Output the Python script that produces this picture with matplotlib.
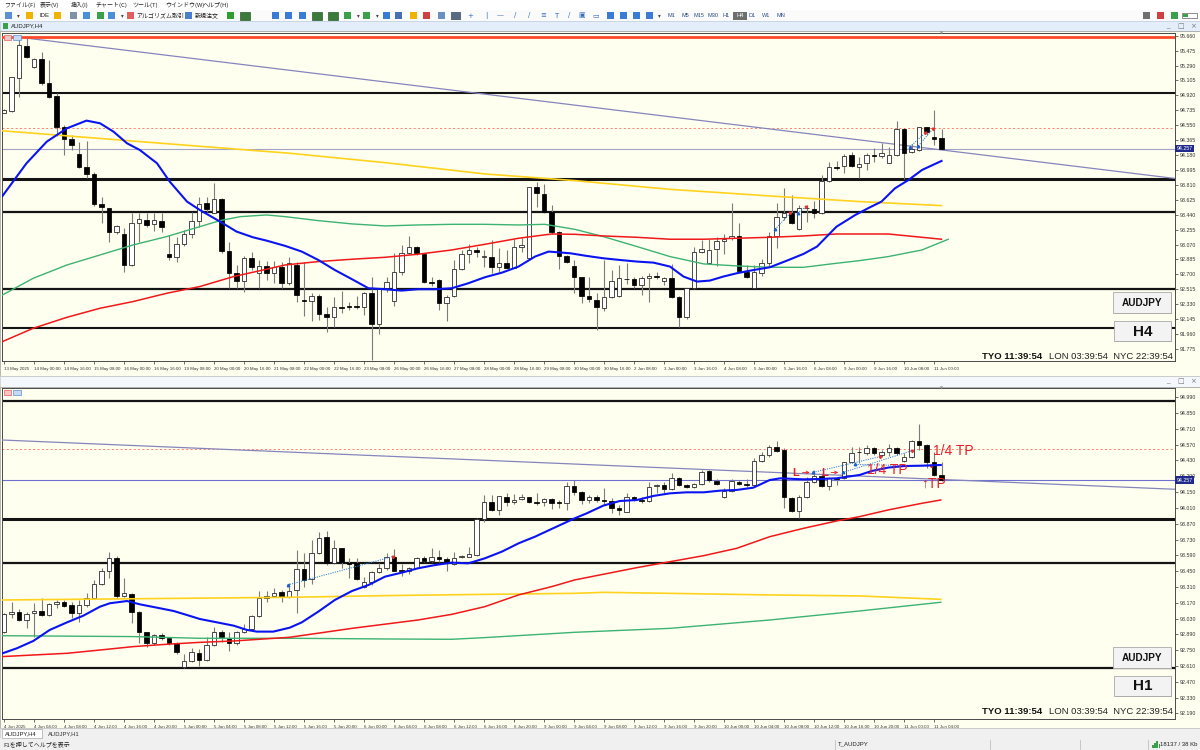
import matplotlib
matplotlib.use('Agg')
import matplotlib.pyplot as plt
import matplotlib.transforms as mtransforms
from matplotlib.patches import Rectangle
import numpy as np

plt.rcParams['font.family'] = ['Liberation Sans', 'DejaVu Sans']
JP = ['Noto Sans CJK JP', 'DejaVu Sans']

# ---------------- data: H4 ----------------
h4_open = [94.706, 94.730, 95.132, 95.537, 95.268, 95.367, 95.070, 94.912, 94.524, 94.375,
           94.190, 94.037, 93.942, 93.570, 93.520, 93.222, 93.201, 92.817, 93.343, 93.375,
           93.321, 93.367, 92.950, 92.921, 93.073, 93.197, 93.367, 93.582, 93.466, 93.632,
           92.995, 92.714, 92.623, 92.908, 92.714, 92.809, 92.714, 92.788, 92.590, 92.817,
           92.384, 92.375, 92.433, 92.206, 92.168, 92.301, 92.309, 92.309, 92.301, 92.466,
           92.086, 92.528, 92.375, 92.726, 92.962, 93.036, 92.954, 92.602, 92.631, 92.350,
           92.433, 92.764, 92.950, 93.003, 92.921, 92.921, 92.797, 92.846, 92.784, 93.045,
           92.900, 93.780, 93.698, 93.478, 93.222, 92.929, 92.805, 92.664, 92.433, 92.384,
           92.288, 92.425, 92.433, 92.648, 92.640, 92.569, 92.652, 92.685, 92.623, 92.652,
           92.425, 92.168, 92.528, 92.983, 92.838, 93.012, 93.115, 93.148, 93.177, 92.735,
           92.536, 92.722, 92.846, 93.177, 93.416, 93.466, 93.259, 93.520, 93.512, 93.458,
           93.863, 94.037, 94.045, 94.181, 94.037, 94.078, 94.181, 94.169, 94.086, 94.181,
           94.499, 94.218, 94.243, 94.524, 94.400, 94.388]
h4_high = [94.747, 95.153, 95.615, 95.628, 95.380, 95.462, 95.359, 94.945, 94.553, 94.429,
           94.346, 94.355, 93.975, 93.665, 93.520, 93.313, 93.272, 93.458, 93.466, 93.466,
           93.466, 93.466, 93.189, 93.169, 93.251, 93.478, 93.665, 93.665, 93.830, 93.644,
           93.106, 92.817, 92.929, 92.983, 92.879, 92.867, 92.867, 92.859, 92.921, 92.859,
           92.859, 92.466, 92.454, 92.301, 92.425, 92.495, 92.363, 92.433, 92.487, 92.673,
           92.516, 92.664, 92.962, 93.065, 93.177, 93.053, 92.962, 92.664, 92.640, 92.446,
           92.879, 93.003, 93.078, 93.045, 93.003, 93.127, 93.024, 93.003, 93.136, 93.148,
           93.789, 93.850, 93.822, 93.561, 93.243, 92.941, 92.879, 92.673, 92.673, 92.466,
           92.879, 92.755, 92.817, 92.838, 92.673, 92.681, 92.714, 92.735, 92.673, 92.830,
           92.437, 92.536, 93.045, 93.127, 93.136, 93.169, 93.202, 93.582, 93.342, 92.817,
           92.817, 92.888, 93.231, 93.590, 93.768, 93.685, 93.561, 93.561, 93.611, 93.933,
           94.098, 94.111, 94.194, 94.222, 94.160, 94.210, 94.264, 94.326, 94.276, 94.607,
           94.512, 94.318, 94.532, 94.532, 94.739, 94.499]
h4_low = [94.697, 94.718, 94.904, 95.380, 95.256, 95.049, 94.883, 94.417, 94.181, 94.243,
          94.016, 93.892, 93.549, 93.343, 93.106, 93.201, 92.735, 92.809, 93.106, 93.292,
          93.243, 93.222, 92.879, 92.859, 93.053, 93.148, 93.292, 93.478, 93.458, 92.970,
          92.528, 92.528, 92.487, 92.755, 92.536, 92.632, 92.590, 92.528, 92.569, 92.363,
          92.189, 92.127, 92.139, 91.986, 92.044, 92.218, 92.259, 92.268, 92.197, 91.639,
          91.962, 92.487, 92.309, 92.693, 92.954, 92.941, 92.590, 92.557, 92.259, 92.127,
          92.425, 92.755, 92.838, 92.921, 92.788, 92.722, 92.735, 92.776, 92.776, 92.983,
          92.879, 93.541, 93.466, 93.201, 92.764, 92.838, 92.466, 92.350, 92.363, 92.011,
          92.247, 92.412, 92.425, 92.578, 92.528, 92.446, 92.363, 92.640, 92.569, 92.412,
          92.044, 92.144, 92.516, 92.970, 92.838, 92.805, 92.950, 93.127, 92.735, 92.652,
          92.528, 92.681, 92.788, 93.024, 93.375, 93.321, 93.251, 93.355, 93.396, 93.450,
          93.850, 93.995, 93.962, 94.028, 93.892, 93.995, 94.099, 94.140, 94.078, 94.169,
          93.879, 94.202, 94.235, 94.429, 94.305, 94.251]
h4_close = [94.739, 95.144, 95.545, 95.400, 95.367, 95.070, 94.904, 94.524, 94.375, 94.305,
            94.037, 93.942, 93.570, 93.533, 93.222, 93.301, 92.817, 93.343, 93.384, 93.313,
            93.375, 93.284, 92.921, 93.073, 93.197, 93.367, 93.574, 93.512, 93.636, 92.991,
            92.722, 92.623, 92.908, 92.797, 92.809, 92.714, 92.797, 92.590, 92.838, 92.446,
            92.371, 92.433, 92.206, 92.168, 92.292, 92.288, 92.301, 92.301, 92.466, 92.086,
            92.516, 92.602, 92.726, 92.962, 93.036, 92.962, 92.602, 92.598, 92.350, 92.425,
            92.764, 92.950, 93.003, 92.983, 92.929, 92.797, 92.846, 92.784, 93.045, 93.065,
            93.780, 93.706, 93.478, 93.222, 92.933, 92.850, 92.673, 92.433, 92.392, 92.292,
            92.425, 92.623, 92.652, 92.640, 92.569, 92.652, 92.685, 92.664, 92.652, 92.425,
            92.168, 92.528, 92.983, 93.012, 93.003, 93.115, 93.140, 93.177, 92.747, 92.673,
            92.726, 92.838, 93.177, 93.416, 93.466, 93.334, 93.520, 93.528, 93.466, 93.863,
            94.037, 94.016, 94.169, 94.045, 94.070, 94.177, 94.169, 94.202, 94.181, 94.499,
            94.210, 94.251, 94.524, 94.470, 94.379, 94.256]

h4_blue_x = [-0.2, 1.2, 3.0, 5.7, 8.4, 11.0, 12.8, 14.6, 16.4, 18.1, 20.4, 22.1, 24.4, 26.1, 28.8,
             31.0, 33.2, 35.0, 37.5, 39.7, 41.9, 44.1, 46.4, 48.6, 50.8, 53.0, 55.2, 57.5, 59.7, 61.9,
             64.1, 66.4, 68.6, 70.8, 72.6, 74.4, 75.5, 77.7, 79.9, 82.1, 84.4, 86.6, 88.8, 90.6, 92.4,
             94.1, 95.9, 97.7, 99.5, 102.1, 104.4, 106.6, 108.4, 109.7, 111.0, 112.8, 113.5, 115.2,
             117.0, 118.8, 120.6, 122.4, 125.0]
h4_blue_y = [93.673, 93.850, 94.078, 94.346, 94.512, 94.607, 94.574, 94.470, 94.326, 94.243,
             94.078, 93.850, 93.603, 93.499, 93.355, 93.231, 93.160, 93.119, 93.053, 92.983,
             92.879, 92.755, 92.640, 92.528, 92.516, 92.499, 92.516, 92.516, 92.528, 92.590,
             92.664, 92.722, 92.797, 92.921, 92.983, 92.970, 92.962, 92.929, 92.900, 92.879,
             92.859, 92.846, 92.797, 92.673, 92.611, 92.623, 92.673, 92.714, 92.747, 92.788,
             92.871, 92.954, 93.045, 93.169, 93.292, 93.396, 93.437, 93.520, 93.603, 93.768,
             93.871, 93.995, 94.107]
h4_yellow_x = [-0.5, 18.8, 38.1, 50.8, 64.1, 76.1, 88.8, 102.1, 114.1, 125.0]
h4_yellow_y = [94.483, 94.342, 94.202, 94.086, 93.946, 93.863, 93.755, 93.673, 93.603, 93.553]
h4_green_x = [-0.2, 3.9, 8.4, 12.8, 17.2, 21.7, 26.1, 28.8, 31.5, 35.0, 37.5, 41.9, 46.4, 50.8,
              55.2, 59.7, 64.1, 68.6, 72.1, 76.1, 79.9, 84.4, 88.8, 93.3, 97.7, 102.1, 106.6,
              111.0, 114.1, 117.9, 122.4, 125.9]
h4_green_y = [92.445, 92.652, 92.817, 92.941, 93.065, 93.169, 93.292, 93.367, 93.416, 93.437,
              93.416, 93.367, 93.326, 93.301, 93.313, 93.321, 93.321, 93.313, 93.321, 93.259,
              93.169, 93.045, 92.921, 92.830, 92.805, 92.788, 92.788, 92.838, 92.871, 92.921,
              93.003, 93.136]
h4_red_x = [-0.2, 3.9, 8.4, 12.8, 17.2, 21.7, 26.1, 30.6, 35.0, 37.5, 41.9, 46.4, 50.8, 55.2,
            59.7, 64.1, 68.6, 73.0, 76.1, 79.9, 84.4, 88.8, 93.3, 97.7, 102.1, 106.6, 111.0,
            114.1, 117.9, 122.4, 125.0]
h4_red_y = [91.867, 92.032, 92.168, 92.280, 92.363, 92.466, 92.549, 92.673, 92.764, 92.817,
            92.859, 92.888, 92.912, 92.950, 93.003, 93.073, 93.148, 93.201, 93.197, 93.177,
            93.160, 93.136, 93.136, 93.148, 93.160, 93.177, 93.201, 93.201, 93.201, 93.160, 93.136]

h4_levels = [94.954, 93.879, 93.478, 92.524, 92.040]
h4_level_w = [1.5, 2.2, 1.6, 1.6, 1.5]
h4_resistance = 95.640
h4_tp_level = 94.512
h4_trend = [(2.1, 95.640), (156.1, 93.890)]
h4_trades = [[(102.8, 93.259), (104.8, 93.458)], [(105.8, 93.458), (106.9, 93.541)],
             [(120.8, 94.284), (122.8, 94.450)], [(121.9, 94.293), (123.8, 94.500)]]
h4_price_ticks = [95.660, 95.475, 95.290, 95.105, 94.920, 94.735, 94.550, 94.365, 94.180, 93.995,
                  93.810, 93.625, 93.440, 93.255, 93.070, 92.885, 92.700, 92.515, 92.330, 92.145,
                  91.960, 91.775]
h4_time_labels = ["13 May 2025", "14 May 00:00", "14 May 16:00", "15 May 08:00", "16 May 00:00",
                  "16 May 16:00", "19 May 08:00", "20 May 00:00", "20 May 16:00", "21 May 08:00",
                  "22 May 00:00", "22 May 16:00", "23 May 08:00", "26 May 00:00", "26 May 16:00",
                  "27 May 08:00", "28 May 00:00", "28 May 16:00", "29 May 08:00", "30 May 00:00",
                  "30 May 16:00", "2 Jun 08:00", "3 Jun 00:00", "3 Jun 16:00", "4 Jun 08:00",
                  "5 Jun 00:00", "5 Jun 16:00", "6 Jun 08:00", "9 Jun 00:00", "9 Jun 16:00",
                  "10 Jun 08:00", "11 Jun 00:00"]

# ---------------- data: H1 ----------------
h1_open = [92.909, 93.067, 93.091, 93.017, 93.076, 93.097, 93.061, 93.156, 93.180, 93.150,
           93.082, 93.150, 93.209, 93.333, 93.451, 93.569, 93.233, 93.244, 93.091, 92.909,
           92.816, 92.884, 92.855, 92.810, 92.604, 92.654, 92.728, 92.663, 92.796, 92.914,
           92.861, 92.810, 92.908, 92.937, 93.053, 93.209, 93.233, 93.262, 93.224, 93.283,
           93.466, 93.380, 93.608, 93.755, 93.519, 93.652, 93.519, 93.519, 93.312, 93.357,
           93.445, 93.481, 93.578, 93.460, 93.454, 93.481, 93.569, 93.540, 93.578, 93.555,
           93.510, 93.575, 93.578, 93.593, 93.909, 94.059, 93.992, 94.110, 94.059, 94.089,
           94.110, 94.059, 94.065, 94.089, 94.059, 94.051, 94.207, 94.148, 94.080, 94.104,
           94.080, 94.071, 94.006, 93.977, 94.104, 94.080, 94.074, 94.207, 94.213, 94.178,
           94.278, 94.213, 94.198, 94.222, 94.337, 94.249, 94.104, 94.160, 94.243, 94.225,
           94.213, 94.429, 94.479, 94.547, 94.523, 94.101, 93.983, 94.110, 94.243, 94.296,
           94.204, 94.272, 94.272, 94.414, 94.508, 94.494, 94.544, 94.479, 94.508, 94.538,
           94.426, 94.464, 94.603, 94.567, 94.414, 94.302]
h1_high = [93.076, 93.180, 93.115, 93.085, 93.165, 93.209, 93.165, 93.194, 93.194, 93.180,
           93.194, 93.253, 93.371, 93.481, 93.623, 93.587, 93.392, 93.253, 93.097, 92.914,
           92.890, 92.899, 92.870, 92.825, 92.713, 92.766, 92.760, 92.870, 92.958, 92.929,
           92.908, 92.920, 92.979, 93.061, 93.274, 93.274, 93.298, 93.283, 93.342, 93.637,
           93.608, 93.726, 93.800, 93.806, 93.726, 93.658, 93.563, 93.569, 93.401, 93.451,
           93.519, 93.614, 93.643, 93.510, 93.490, 93.578, 93.587, 93.652, 93.637, 93.578,
           93.623, 93.593, 93.667, 93.924, 94.124, 94.124, 94.116, 94.139, 94.130, 94.130,
           94.110, 94.139, 94.095, 94.095, 94.080, 94.243, 94.257, 94.160, 94.124, 94.124,
           94.189, 94.095, 94.036, 94.139, 94.119, 94.110, 94.243, 94.222, 94.243, 94.316,
           94.287, 94.219, 94.234, 94.346, 94.346, 94.263, 94.184, 94.263, 94.257, 94.266,
           94.455, 94.508, 94.567, 94.603, 94.538, 94.110, 94.124, 94.287, 94.346, 94.308,
           94.287, 94.287, 94.420, 94.547, 94.553, 94.567, 94.550, 94.523, 94.573, 94.553,
           94.494, 94.612, 94.751, 94.573, 94.508, 94.420]
h1_low = [92.899, 93.032, 93.008, 92.943, 92.870, 93.053, 93.053, 93.126, 93.135, 93.032,
          92.996, 93.135, 93.203, 93.327, 93.386, 93.203, 93.221, 92.988, 92.816, 92.781,
          92.796, 92.840, 92.796, 92.713, 92.595, 92.648, 92.613, 92.654, 92.787, 92.825,
          92.743, 92.796, 92.899, 92.929, 93.047, 93.180, 93.224, 93.180, 93.209, 93.082,
          93.312, 93.333, 93.599, 93.504, 93.510, 93.475, 93.386, 93.374, 93.298, 93.327,
          93.431, 93.460, 93.451, 93.410, 93.422, 93.475, 93.528, 93.528, 93.534, 93.451,
          93.504, 93.563, 93.572, 93.584, 93.888, 93.983, 93.947, 94.030, 94.045, 94.080,
          94.051, 94.036, 94.030, 93.998, 94.012, 93.992, 94.124, 94.042, 94.051, 94.065,
          94.036, 93.962, 93.947, 93.971, 94.071, 94.051, 94.065, 94.139, 94.139, 94.169,
          94.207, 94.184, 94.184, 94.213, 94.243, 94.213, 94.101, 94.154, 94.213, 94.198,
          94.207, 94.420, 94.464, 94.508, 94.012, 93.971, 93.918, 94.101, 94.228, 94.198,
          94.169, 94.213, 94.266, 94.405, 94.405, 94.479, 94.479, 94.464, 94.473, 94.479,
          94.414, 94.455, 94.523, 94.361, 94.296, 94.251]
h1_close = [93.067, 93.091, 93.017, 93.067, 93.100, 93.061, 93.156, 93.180, 93.144, 93.082,
            93.150, 93.209, 93.333, 93.451, 93.563, 93.233, 93.253, 93.085, 92.909, 92.816,
            92.884, 92.855, 92.810, 92.737, 92.654, 92.731, 92.663, 92.796, 92.914, 92.870,
            92.810, 92.908, 92.937, 93.053, 93.209, 93.233, 93.259, 93.224, 93.274, 93.466,
            93.371, 93.608, 93.747, 93.519, 93.652, 93.534, 93.510, 93.380, 93.357, 93.439,
            93.481, 93.572, 93.454, 93.454, 93.475, 93.563, 93.540, 93.578, 93.558, 93.525,
            93.569, 93.584, 93.599, 93.909, 94.065, 93.992, 94.116, 94.065, 94.080, 94.110,
            94.059, 94.051, 94.089, 94.051, 94.051, 94.207, 94.148, 94.080, 94.104, 94.080,
            94.074, 94.006, 93.992, 94.104, 94.080, 94.074, 94.198, 94.213, 94.178, 94.278,
            94.213, 94.198, 94.222, 94.331, 94.257, 94.222, 94.160, 94.251, 94.222, 94.213,
            94.429, 94.479, 94.547, 94.517, 94.104, 93.983, 94.110, 94.243, 94.293, 94.204,
            94.272, 94.266, 94.414, 94.500, 94.502, 94.544, 94.494, 94.508, 94.538, 94.494,
            94.464, 94.606, 94.567, 94.414, 94.302, 94.257]

h1_blue_x = [-0.2, 1.7, 3.9, 6.1, 8.4, 10.6, 12.8, 14.1, 16.4, 18.1, 20.4, 22.6, 24.4, 26.1, 28.4,
             30.6, 32.4, 33.7, 35.9, 38.1, 39.7, 41.9, 44.1, 46.4, 48.6, 50.8, 53.0, 55.2, 57.5,
             59.7, 61.9, 64.1, 66.4, 68.6, 70.8, 73.0, 76.1, 77.7, 79.9, 82.1, 84.4, 86.6, 88.8,
             91.0, 93.3, 95.5, 97.7, 99.9, 102.1, 103.5, 106.6, 108.8, 111.0, 114.1, 115.7, 117.9,
             120.1, 122.4, 124.9]
h1_blue_y = [92.722, 92.766, 92.831, 92.929, 92.996, 93.056, 93.135, 93.165, 93.185, 93.156,
             93.126, 93.097, 93.061, 93.026, 92.996, 92.967, 92.929, 92.914, 92.914, 92.949,
             92.996, 93.091, 93.194, 93.274, 93.327, 93.401, 93.436, 93.475, 93.504, 93.525,
             93.519, 93.563, 93.623, 93.696, 93.755, 93.823, 93.918, 93.962, 94.030, 94.071,
             94.080, 94.116, 94.139, 94.148, 94.148, 94.163, 94.169, 94.189, 94.257, 94.272,
             94.263, 94.266, 94.272, 94.302, 94.337, 94.367, 94.381, 94.384, 94.390]
h1_yellow_x = [-0.5, 38.1, 50.8, 64.1, 76.1, 79.9, 88.8, 102.1, 114.1, 124.9]
h1_yellow_y = [93.194, 93.218, 93.233, 93.244, 93.253, 93.262, 93.253, 93.239, 93.230, 93.200]
h1_green_x = [-0.5, 17.2, 26.1, 38.1, 50.8, 59.7, 64.1, 76.1, 88.8, 102.1, 114.1, 124.9]
h1_green_y = [92.878, 92.870, 92.855, 92.855, 92.849, 92.846, 92.861, 92.908, 92.943, 93.017,
              93.097, 93.174]
h1_red_x = [-0.5, 8.4, 12.8, 17.2, 21.7, 26.1, 30.6, 38.1, 46.4, 55.2, 59.7, 64.1, 68.6, 73.0,
            76.1, 84.4, 93.3, 97.7, 102.1, 106.6, 111.0, 114.1, 117.9, 122.4, 124.9]
h1_red_y = [92.692, 92.722, 92.751, 92.781, 92.802, 92.819, 92.831, 92.864, 92.943, 93.017,
            93.067, 93.135, 93.239, 93.312, 93.372, 93.481, 93.587, 93.652, 93.755, 93.829,
            93.894, 93.933, 93.992, 94.051, 94.080]

h1_levels = [94.960, 93.912, 93.525, 92.589]
h1_level_w = [1.6, 2.2, 1.6, 1.6]
h1_tp_level = 94.529
h1_trend = [(-0.5, 94.612), (156.1, 94.175)]
h1_trades = [[(37.8, 93.327), (51.8, 93.578)], [(107.9, 94.325), (116.8, 94.464)],
             [(111.9, 94.325), (121.0, 94.515)], [(113.5, 94.395), (123.6, 94.380)]]
h1_price_ticks = [94.990, 94.850, 94.710, 94.570, 94.430, 94.290, 94.150, 94.010, 93.870, 93.730,
                  93.590, 93.450, 93.310, 93.170, 93.030, 92.890, 92.750, 92.610, 92.470, 92.330,
                  92.190]
h1_time_labels = ["4 Jun 2025", "4 Jun 04:00", "4 Jun 08:00", "4 Jun 12:00", "4 Jun 16:00",
                  "4 Jun 20:00", "5 Jun 00:00", "5 Jun 04:00", "5 Jun 08:00", "5 Jun 12:00",
                  "5 Jun 16:00", "5 Jun 20:00", "6 Jun 00:00", "6 Jun 04:00", "6 Jun 08:00",
                  "6 Jun 12:00", "6 Jun 16:00", "6 Jun 20:00", "9 Jun 00:00", "9 Jun 04:00",
                  "9 Jun 08:00", "9 Jun 12:00", "9 Jun 16:00", "9 Jun 20:00", "10 Jun 00:00",
                  "10 Jun 04:00", "10 Jun 08:00", "10 Jun 12:00", "10 Jun 16:00", "10 Jun 20:00",
                  "11 Jun 00:00", "11 Jun 04:00"]
h1_notes = [("1/4 TP", 123.9, 94.514), ("1/4 TP", 115.1, 94.346), ("\u2191TP", 122.3, 94.222)]
h1_entries = [(105.1, 94.320), (108.9, 94.320)]

current_price = 94.257

# ---------------- figure ----------------
W, H = 1200, 750
fig = plt.figure(figsize=(12, 7.5), dpi=100)
fig.patch.set_facecolor('white')


def px_axes(x0, y0, x1, y1, z=0):
    return fig.add_axes([x0 / W, 1 - y1 / H, (x1 - x0) / W, (y1 - y0) / H], zorder=z)


bg = px_axes(0, 0, W, H, z=0)
bg.set_xlim(0, W); bg.set_ylim(H, 0); bg.axis('off')


def rect(a, x0, y0, x1, y1, fc, ec='none', lw=0.5, z=1):
    a.add_patch(Rectangle((x0, y0), x1 - x0, y1 - y0, facecolor=fc, edgecolor=ec, lw=lw, zorder=z))


IVORY = '#fffff0'
rect(bg, 0, 0, W, 10, 'white')
rect(bg, 0, 10, W, 21, '#fbfbfb')
rect(bg, 0, 21, W, 31, '#e3eefa', ec='#b8c9dc')
rect(bg, 0, 31, W, 376, IVORY, ec='#9a9a9a')
rect(bg, 0, 376, W, 387, '#f4f7fb', ec='#c8c8c8')
rect(bg, 0, 387, W, 728, IVORY, ec='#9a9a9a')
rect(bg, 0, 728, W, 738, '#f0f0f0', ec='#c8c8c8')
rect(bg, 0, 738, W, H, '#f0f0f0')

# menu bar
for x, t in [(4, 'ファイル(F)'), (40, '表示(V)'), (71, '挿入(I)'), (96, 'チャート(C)'),
             (132, 'ツール(T)'), (165, 'ウインドウ(W)'), (203, 'ヘルプ(H)')]:
    bg.text(x, 5, t, family=JP, fontsize=4.3, va='center', ha='left', color='#222')

# toolbar icons
icons = [(8, '#5b8fd6'), (29, '#f0b400'), (57, '#f0b400'), (73, '#8090a8'), (86, '#4a90d9'),
         (100, '#3aa04a'), (111, '#4a90d9'), (130, '#e06060'), (188, '#4a7fd0'), (230, '#2ca02c'),
         (275, '#3a7bd5'), (288, '#3a7bd5'), (302, '#3a7bd5'), (347, '#3aa04a'), (366, '#3aa04a'),
         (386, '#3a7bd5'), (398, '#4a6fb0'), (413, '#f0b400'), (426, '#d04040'), (441, '#6a8fc0'),
         (610, '#3a7bd5'), (623, '#3a7bd5'), (636, '#3a7bd5'), (649, '#3a7bd5'),
         (1146, '#707070'), (1160, '#d04040'), (1174, '#3aa04a')]
for x, c in icons:
    rect(bg, x - 3.5, 12, x + 3.5, 19, c, z=2)
for x in [245, 317, 333]:
    rect(bg, x - 5, 11.5, x + 5, 19.5, '#3c7a3c', ec='#2a5a2a', z=2)
rect(bg, 451, 11.5, 461, 19.5, '#5a6a80', z=2)
for x, g in [(470, '+'), (486, '|'), (500, '—'), (515, '/'), (529, '/'), (543, '≡'), (556, 'T'),
             (569, '/'), (582, '▣'), (596, '▭')]:
    bg.text(x, 15.5, g, fontsize=5, color='#3a6fc0', ha='center', va='center', family=['DejaVu Sans'])
for x in [18, 122, 358, 377, 659]:
    bg.text(x, 15.5, '▾', fontsize=4, color='#444', ha='center', va='center', family=['DejaVu Sans'])
bg.text(40, 15.5, 'IDE', fontsize=4.3, va='center', ha='left', color='#222')
bg.text(136, 15.5, 'アルゴリズム取引', family=JP, fontsize=4.3, va='center', ha='left', color='#222')
bg.text(195, 15.5, '新規注文', family=JP, fontsize=4.3, va='center', ha='left', color='#222')
rect(bg, 733, 11.5, 747, 19.5, '#6e6e6e', z=2)
for x, t in [(671, 'M1'), (685, 'M5'), (699, 'M15'), (713, 'M30'), (726, 'H1'), (740, 'H4'),
             (752, 'D1'), (766, 'W1'), (781, 'MN')]:
    bg.text(x, 15.5, t, fontsize=4.0, va='center', ha='center',
            color='white' if t == 'H4' else '#2a4a80', zorder=3)
rect(bg, 1182, 13, 1197, 18, 'white', ec='#606060', z=2)
rect(bg, 1183, 14, 1188, 17, '#3aa04a', z=3)

# window title bars
rect(bg, 3, 23, 8, 29, '#3aa04a', z=2)
bg.text(11, 26, 'AUDJPY,H4', fontsize=4.3, va='center', ha='left', color='#222')
for y in (26, 381):
    for x, g in [(1168, '_'), (1181, '□'), (1193, '×')]:
        bg.text(x, y, g, fontsize=5, ha='center', va='center', color='#777',
                family=['DejaVu Sans'])

# tabs & status bar
rect(bg, 2, 729, 42, 738, 'white', ec='#a8a8a8', z=2)
bg.text(5, 733.5, 'AUDJPY,H4', fontsize=4.2, va='center', ha='left', color='#222', zorder=3)
bg.text(48, 733.5, 'AUDJPY,H1', fontsize=4.2, va='center', ha='left', color='#333')
bg.text(3, 744, 'F1を押してヘルプを表示', family=JP, fontsize=4.3, va='center', ha='left', color='#222')
bg.text(838, 744, 'T_AUDJPY', fontsize=4.3, va='center', ha='left', color='#222')
bg.text(1197, 744, '18137 / 38 Kb', fontsize=4.3, va='center', ha='right', color='#222')
for x in [835, 990, 1080, 1148]:
    bg.plot([x, x], [740, 749], color='#c0c0c0', lw=0.6)
for i, hgt in enumerate([3, 5, 7, 4]):
    rect(bg, 1152 + i * 2.2, 748 - hgt, 1153.5 + i * 2.2, 748, '#3aa04a', z=2)

# ---------------- charts ----------------
PLOT_X0, PLOT_X1 = 2, 1175


def make_chart(y0, y1, ylim):
    ax = px_axes(PLOT_X0, y0, PLOT_X1, y1, z=2)
    ax.set_facecolor(IVORY)
    ax.set_xlim(-0.2667, 156.13)
    ax.set_ylim(*ylim)
    for s in ax.spines.values():
        s.set_color('#4a4a4a'); s.set_linewidth(0.7)
    return ax


def axis_labels(ax, yt, xl):
    ax.yaxis.tick_right()
    ax.set_yticks(yt)
    ax.set_yticklabels([f'{v:.3f}' for v in yt])
    ax.tick_params(axis='y', length=2.5, width=0.5, pad=1.2, labelsize=3.8,
                   colors='#333333', direction='out')
    ax.set_xticks(np.arange(0, 4 * len(xl), 4))
    ax.set_xticklabels(xl, ha='left')
    ax.tick_params(axis='x', length=2.5, width=0.5, pad=1.8, labelsize=3.2,
                   colors='#333333', direction='out')


def candles(ax, o, h, l, c):
    o, h, l, c = map(np.asarray, (o, h, l, c))
    idx = np.arange(len(o))
    hi = np.maximum(h, np.maximum(o, c)); lo = np.minimum(l, np.minimum(o, c))
    ax.vlines(idx, lo, hi, color='#7c7c7c', lw=0.8, zorder=4)
    up = c >= o
    bottom = np.minimum(o, c)
    height = np.maximum(np.abs(c - o), 0.005)
    ax.bar(idx[up], height[up], bottom=bottom[up], width=0.62, color='white',
           edgecolor='#1a1a1a', lw=0.55, zorder=5)
    ax.bar(idx[~up], height[~up], bottom=bottom[~up], width=0.62, color='black',
           edgecolor='black', lw=0.55, zorder=5)


def common(ax, levels, widths, trend, tp, cur_col, trades):
    for v, w in zip(levels, widths):
        ax.axhline(v, color='#141414', lw=w, zorder=2)
    ax.axhline(tp, color='#ff7a6a', lw=0.7, ls=(0, (2, 2.5)), zorder=2)
    ax.axhline(current_price, color=cur_col, lw=0.8, zorder=2)
    (x1, y1), (x2, y2) = trend
    ax.plot([x1, x2], [y1, y2], color='#8585bd', lw=0.9, zorder=3)
    for seg in trades:
        xs, ys = zip(*seg)
        ax.plot(xs, ys, color='#2f7fd6', lw=0.7, ls=(0, (1.2, 1.2)), zorder=6)
        ax.plot(xs[0], ys[0], marker='^', ms=1.8, color='#1f5fd0', zorder=7)
        ax.plot(xs[1], ys[1], marker='v', ms=1.8, color='#e03030', zorder=7)
    tr = mtransforms.blended_transform_factory(ax.transAxes, ax.transData)
    ax.text(1.0012, current_price, f'{current_price:.3f}', transform=tr, fontsize=3.8,
            color='white', va='center', ha='left', clip_on=False, zorder=20,
            bbox=dict(boxstyle='square,pad=0.22', fc='#1f2a8a', ec='none'))


def mas(ax, blue, yellow, green, red):
    ax.plot(*yellow, color='#ffd21e', lw=1.2, zorder=6)
    ax.plot(*green, color='#3cb371', lw=1.0, zorder=6)
    ax.plot(*red, color='#f01818', lw=1.1, zorder=6)
    ax.plot(*blue, color='#0a14f0', lw=1.5, zorder=7)


# H4
ax4 = make_chart(33, 361, (91.626, 95.6935))
axis_labels(ax4, h4_price_ticks, h4_time_labels)
common(ax4, h4_levels, h4_level_w, h4_trend, h4_tp_level, '#a3a3c6', h4_trades)
ax4.axhline(h4_resistance, color='#ff4a2a', lw=2.0, zorder=3)
candles(ax4, h4_open, h4_high, h4_low, h4_close)
mas(ax4, (h4_blue_x, h4_blue_y), (h4_yellow_x, h4_yellow_y), (h4_green_x, h4_green_y),
    (h4_red_x, h4_red_y))

# H1
ax1 = make_chart(388, 719, (92.140, 95.072))
axis_labels(ax1, h1_price_ticks, h1_time_labels)
common(ax1, h1_levels, h1_level_w, h1_trend, h1_tp_level, '#6f6fd2', h1_trades)
candles(ax1, h1_open, h1_high, h1_low, h1_close)
mas(ax1, (h1_blue_x, h1_blue_y), (h1_yellow_x, h1_yellow_y), (h1_green_x, h1_green_y),
    (h1_red_x, h1_red_y))
for txt, xi, yi in h1_notes:
    ax1.text(xi, yi, txt, fontsize=10, color='#e8202a', ha='left', va='center', zorder=12,
             family=['Liberation Sans', 'DejaVu Sans'])
for xi, yi in h1_entries:
    ax1.text(xi, yi, 'L', fontsize=8, color='#e8202a', ha='left', va='center', zorder=12,
             fontweight='bold')
    ax1.annotate('', xy=(xi + 2.7, yi + 0.004), xytext=(xi + 1.0, yi + 0.004),
                 arrowprops=dict(arrowstyle='->', color='#e8202a', lw=0.6,
                                 mutation_scale=5), zorder=12)

# ---------------- overlay (buttons, clocks, chart icons) ----------------
ov = px_axes(0, 0, W, H, z=10)
ov.set_xlim(0, W); ov.set_ylim(H, 0); ov.axis('off')


def button(x0, y0, x1, y1, txt, fs):
    ov.add_patch(Rectangle((x0 + 1.2, y0 + 1.2), x1 - x0, y1 - y0, fc='#9a9a9a', ec='none'))
    ov.add_patch(Rectangle((x0, y0), x1 - x0, y1 - y0, fc='#f3f3f3', ec='#a8a8a8', lw=0.6))
    ov.text((x0 + x1) / 2, (y0 + y1) / 2 + 0.5, txt, ha='center', va='center', fontsize=fs,
            fontweight='bold', color='#111111')


for top, tf in [(292, 'H4'), (647, 'H1')]:
    button(1113, top, 1171, top + 21, 'AUDJPY', 7.2)
    button(1114, top + 29, 1171, top + 49, tf, 11)

for y in (356.5, 711.5):
    ov.text(982, y, 'TYO 11:39:54', fontsize=6.8, fontweight='bold', ha='left', va='center',
            color='#111')
    ov.text(1049, y, 'LON 03:39:54  NYC 22:39:54', fontsize=6.8, ha='left', va='center',
            color='#222')

for y in (37, 392):
    ov.add_patch(Rectangle((4, y - 2.5), 7, 5, fc='#f4c6c6', ec='#e06060', lw=0.5))
    ov.add_patch(Rectangle((13, y - 2.5), 8, 5, fc='#c6daf4', ec='#5a8fd6', lw=0.5))
    ov.text(941, y - 3.5, '▼', fontsize=2.8, color='#909090', ha='center', va='center',
            family=['DejaVu Sans'])

fig.savefig('out.png', dpi=100, facecolor=fig.get_facecolor())
